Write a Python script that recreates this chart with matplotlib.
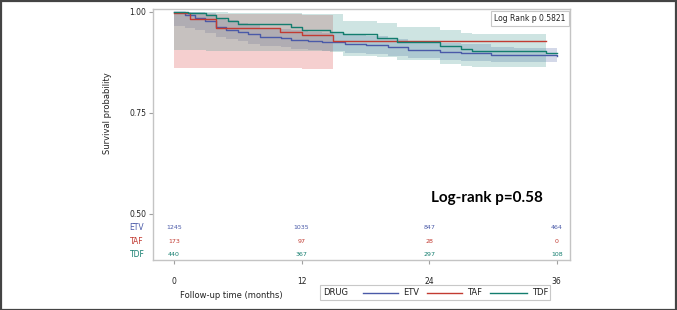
import matplotlib
matplotlib.use("Agg")
import matplotlib.pyplot as plt
from matplotlib.patches import Rectangle
from matplotlib.lines import Line2D
import matplotlib.transforms as mtransforms

plt.rcParams['font.family'] = ['DejaVu Sans']

# ---- data ----
groups = ["ETV", "TAF", "TDF"]
colors = {"ETV": "#4a5aa8", "TAF": "#c23b32", "TDF": "#137d6e"}
fill_colors = {"ETV": "#6f7eb3", "TAF": "#e06060", "TDF": "#4a9e96"}

etv_t = [0, 1.0, 2.0, 2.9, 4.0, 4.9, 6.0, 7.0, 8.1, 10.1, 11.0, 12.6, 13.9, 16.1, 18.1, 20.1, 22.0, 25.0, 27.0, 29.8, 32.0, 36.0]
etv_s = [1.0, 0.992, 0.985, 0.977, 0.963, 0.956, 0.950, 0.944, 0.938, 0.935, 0.931, 0.928, 0.925, 0.921, 0.917, 0.912, 0.906, 0.901, 0.899, 0.894, 0.892, 0.891]
etv_lo = [0.965, 0.960, 0.955, 0.948, 0.938, 0.932, 0.927, 0.921, 0.915, 0.912, 0.908, 0.905, 0.902, 0.899, 0.895, 0.890, 0.885, 0.880, 0.878, 0.876, 0.875, 0.875]
etv_hi = [1.0, 1.0, 1.0, 0.996, 0.985, 0.979, 0.973, 0.967, 0.961, 0.958, 0.954, 0.951, 0.948, 0.943, 0.939, 0.934, 0.927, 0.922, 0.920, 0.913, 0.910, 0.908]

taf_t = [0, 1.5, 4.0, 10.0, 12.0, 15.0, 35.0]
taf_s = [0.997, 0.983, 0.959, 0.951, 0.943, 0.929, 0.929]
taf_band_t = [0, 12.0, 15.0]
taf_lo = [0.862, 0.859, 0.859]
taf_hi = [0.994, 0.993, 0.993]

tdf_t = [0, 1.3, 3.0, 4.0, 5.1, 6.0, 11.0, 12.0, 14.7, 15.9, 19.1, 21.0, 25.0, 27.0, 28.0, 35.0, 36.0]
tdf_s = [1.0, 0.996, 0.991, 0.985, 0.978, 0.970, 0.963, 0.955, 0.950, 0.944, 0.936, 0.925, 0.916, 0.907, 0.903, 0.899, 0.899]
tdf_lo = [0.905, 0.905, 0.904, 0.904, 0.903, 0.903, 0.902, 0.902, 0.901, 0.890, 0.888, 0.880, 0.872, 0.867, 0.864, 0.860, 0.860]
tdf_hi = [1.0, 1.0, 1.0, 0.999, 0.998, 0.997, 0.996, 0.995, 0.994, 0.977, 0.972, 0.962, 0.955, 0.948, 0.944, 0.938, 0.938]

risk_times = [0, 12, 24, 36]
risk_etv = [1245, 1035, 847, 464]
risk_taf = [173, 97, 28, 0]
risk_tdf = [440, 367, 297, 108]

xticks = [0, 12, 24, 36]
yticks = [0.50, 0.75, 1.00]
ytick_labels = ["0.50", "0.75", "1.00"]

# ---- figure ----
W, H = 677, 310
fig = plt.figure(figsize=(W / 100, H / 100), dpi=100)
ax = fig.add_axes([153 / W, (H - 260) / H, (570 - 153) / W, (260 - 9) / H])

# bands
ax.fill_between(etv_t, etv_lo, etv_hi, step='post', color=fill_colors["ETV"], alpha=0.30, lw=0)
ax.fill_between(taf_band_t, taf_lo, taf_hi, step='post', color=fill_colors["TAF"], alpha=0.30, lw=0)
ax.fill_between(tdf_t[:-1], tdf_lo[:-1], tdf_hi[:-1], step='post', color=fill_colors["TDF"], alpha=0.27, lw=0)

# curves
ax.step(etv_t, etv_s, where='post', color=colors["ETV"], lw=1.0)
ax.step(taf_t, taf_s, where='post', color=colors["TAF"], lw=1.0)
ax.step(tdf_t, tdf_s, where='post', color=colors["TDF"], lw=1.0)

ax.set_xlim(-1.97, 37.25)
ax.set_ylim(0.386, 1.007)
ax.set_xticks(xticks)
ax.set_xticklabels([str(x) for x in xticks])
ax.set_yticks(yticks)
ax.set_yticklabels(ytick_labels)
ax.tick_params(axis='both', colors='#a0a0a0', labelcolor='#222222', labelsize=5.5, length=3, width=0.8, pad=2)
ax.tick_params(axis='x', pad=9)
for sp in ax.spines.values():
    sp.set_color('#c4c4c4')
    sp.set_linewidth(1.0)

ax.set_ylabel("Survival probability", fontsize=6, color='#222222')
ax.yaxis.set_label_coords(-0.099, 0.586)

# at-risk table inside axes
trans = mtransforms.blended_transform_factory(ax.transData, ax.transAxes)
rows = [("ETV", risk_etv, 0.129), ("TAF", risk_taf, 0.073), ("TDF", risk_tdf, 0.023)]
for name, vals, yf in rows:
    for t, v in zip(risk_times, vals):
        ax.text(t, yf, str(v), transform=trans, ha='center', va='center', fontsize=4.5, color=colors[name])
    fig.text(137 / W, 1 - (260 - yf * 251) / H, name, ha='center', va='center', fontsize=5.5, color=colors[name])

# inset p-value box
ax.text(0.99, 0.963, "Log Rank p 0.5821", transform=ax.transAxes, ha='right', va='center', fontsize=5.5,
        color='#222222', bbox=dict(boxstyle='square,pad=0.4', fc='white', ec='#c8c8c8', lw=0.8))

# big annotation
fig.text(487 / W, 1 - 198 / H, "Log-rank p=0.58", ha='center', va='center', fontsize=11,
         fontweight='bold', family=['Lato', 'DejaVu Sans'], color='black')

# x label
fig.text(231 / W, 1 - 296 / H, "Follow-up time (months)", ha='center', va='center', fontsize=6, color='#222222')

# legend drawn manually in figure coords
fig.add_artist(Rectangle((320 / W, 1 - 300 / H), 230 / W, 15 / H, transform=fig.transFigure,
                         fill=False, ec='#c8c8c8', lw=0.8))
ly = 1 - 292.5 / H
fig.text(323 / W, ly, "DRUG", ha='left', va='center', fontsize=6, color='#222222')
for name, x0, x1, xt in [("ETV", 363, 398, 403), ("TAF", 427, 462, 467), ("TDF", 490, 527, 532)]:
    fig.add_artist(Line2D([x0 / W, x1 / W], [ly, ly], transform=fig.transFigure, color=colors[name], lw=1.0))
    fig.text(xt / W, ly, name, ha='left', va='center', fontsize=6, color='#222222')

# outer border
fig.add_artist(Rectangle((0.5 / W, 0.5 / H), (W - 1.5) / W, (H - 1.5) / H, transform=fig.transFigure,
                         fill=False, ec='#444444', lw=1.6))

fig.savefig("out.png", dpi=100)
